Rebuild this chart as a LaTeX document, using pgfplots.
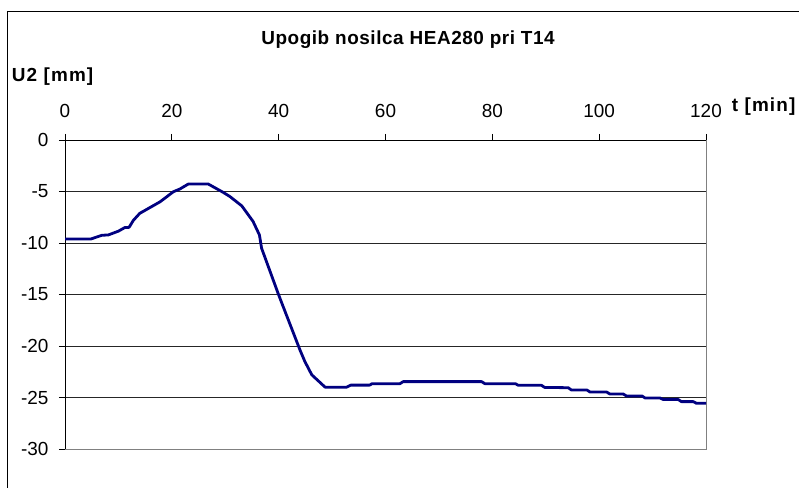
\documentclass[border=0pt]{standalone}
\usepackage{fontspec}
\setmainfont{Liberation Sans}
\usepackage{pgfplots}
\pgfplotsset{compat=1.18}
\definecolor{navyline}{RGB}{0,0,128}
\begin{document}
\begin{tikzpicture}
\useasboundingbox (0,0) rectangle (799bp,488bp);
\draw[line width=1bp,black] (7bp,-2bp) -- (7bp,476bp) -- (801bp,476bp);
\begin{axis}[
  at={(65bp,39bp)}, anchor=south west,
  scale only axis, width=641bp, height=309bp,
  xmin=0, xmax=120, ymin=-30, ymax=0,
  axis x line*=top, axis y line*=left,
  axis line style={black, line width=0.9bp},
  xtick={0,20,40,60,80,100,120},
  xticklabels={0,20,40,60,80,100,120},
  ytick={-30,-25,-20,-15,-10,-5,0},
  yticklabels={-30,-25,-20,-15,-10,-5,0},
  tick align=outside, major tick length=6bp,
  tick style={black, line width=0.9bp},
  ymajorgrids, grid style={black!85, line width=0.8bp},
  ticklabel style={font=\fontsize{19}{21}\selectfont},
  xticklabel style={yshift=13bp},
  yticklabel style={xshift=-7bp},
  title={Upogib nosilca HEA280 pri T14},
  every axis title/.style={at={(axis description cs:0.5,1)}, anchor=center, inner sep=0pt, xshift=22.5bp, yshift=100bp, font=\fontsize{19}{21}\selectfont\bfseries\addfontfeatures{LetterSpace=3}},
  xlabel={t [min]},
  every axis x label/.style={at={(axis description cs:1,1)}, anchor=west, inner sep=0pt, xshift=25.7bp, yshift=33bp, font=\fontsize{19}{21}\selectfont\bfseries\addfontfeatures{LetterSpace=6}},
  ylabel={U2 [mm]},
  every axis y label/.style={at={(axis description cs:0,1)}, anchor=west, inner sep=0pt, xshift=-53.3bp, yshift=63bp, font=\fontsize{19}{21}\selectfont\bfseries\addfontfeatures{LetterSpace=6}},
  clip=false,
]
\draw[gray, line width=1bp] (axis cs:120,0) -- (axis cs:120,-30) -- (axis cs:0,-30);
\addplot[navyline, line width=2.8bp, line join=round] coordinates {
(0,-9.62) (4.8,-9.62) (6.9,-9.25) (8.1,-9.22) (10,-8.85) (11.2,-8.5) (12,-8.48)
(12.8,-7.8) (14,-7.12) (17.8,-6.0) (20.3,-5.02) (21.5,-4.76) (23.1,-4.27)
(26.8,-4.27) (29.6,-5.08) (30.9,-5.5) (33.1,-6.4) (35.2,-7.9) (36.4,-9.22)
(36.8,-10.5) (39.9,-14.9) (40.6,-15.85) (44.0,-20.4) (44.9,-21.5) (46.2,-22.8)
(48.7,-24.0) (52.7,-24.0) (53.5,-23.8) (57.0,-23.8) (57.5,-23.66) (62.7,-23.66)
(63.3,-23.46) (78.0,-23.46) (78.6,-23.66) (84.3,-23.66) (84.9,-23.82) (89.2,-23.82)
(89.8,-24.02) (94.2,-24.05) (94.8,-24.27) (97.7,-24.27) (98.3,-24.47) (101.4,-24.47)
(102,-24.66) (104.5,-24.66) (105.1,-24.85) (108,-24.85) (108.6,-25.05) (111.4,-25.05)
(112,-25.2) (114.8,-25.2) (115.4,-25.4) (117.6,-25.4) (118.2,-25.56) (120,-25.56)
};
\end{axis}
\end{tikzpicture}
\end{document}
